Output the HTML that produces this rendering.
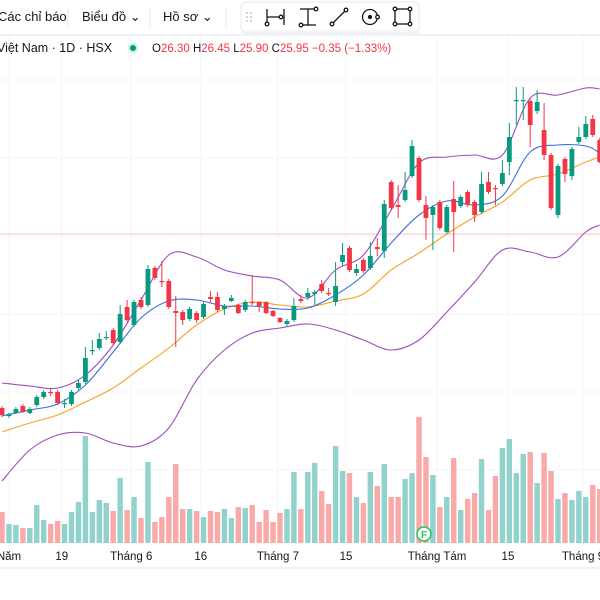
<!DOCTYPE html>
<html><head><meta charset="utf-8">
<style>
html,body{margin:0;padding:0;background:#fff;width:600px;height:600px;overflow:hidden;font-family:"Liberation Sans","Noto Sans CJK JP",sans-serif;}
svg{display:block}
</style></head>
<body>
<svg id="chart" width="600" height="600" viewBox="0 0 600 600" xmlns="http://www.w3.org/2000/svg" font-family="Liberation Sans, sans-serif">
  <rect width="600" height="600" fill="#fff"/>
  <g id="grid"></g>
  <line x1="0" y1="234" x2="600" y2="234" stroke="#f3c5c8" stroke-width="1"/>
  <g id="vol"></g>
  <g id="ind"></g>
  <g id="candles"></g>
  <g>
    <line x1="0" y1="35" x2="600" y2="35" stroke="#e0e3eb"/>
    <text x="-2" y="21" font-size="13" fill="#131722">Các chỉ báo</text>
    <line x1="68" y1="9" x2="68" y2="27" stroke="#e0e3eb"/>
    <text x="82" y="21" font-size="13" fill="#131722">Biểu đồ ⌄</text>
    <line x1="150" y1="9" x2="150" y2="27" stroke="#e0e3eb"/>
    <text x="163" y="21" font-size="13" fill="#131722">Hồ sơ ⌄</text>
    <line x1="226" y1="9" x2="226" y2="27" stroke="#e0e3eb"/>
  </g>
  <g>
    <rect x="241" y="2" width="178" height="31" rx="5" fill="#fff" stroke="#e6e8ee"/>
    <rect x="241" y="30" width="178" height="4" fill="#f0f1f4" opacity="0.6"/>
    <g fill="#b2b5be"><circle cx="247" cy="13" r="0.9"/><circle cx="251" cy="13" r="0.9"/><circle cx="247" cy="17" r="0.9"/><circle cx="251" cy="17" r="0.9"/><circle cx="247" cy="21" r="0.9"/><circle cx="251" cy="21" r="0.9"/></g>
    <g stroke="#131722" stroke-width="1.3" fill="#fff">
      <g><line x1="267" y1="9" x2="267" y2="25"/><line x1="267" y1="17" x2="283" y2="17"/><line x1="284" y1="9" x2="284" y2="25"/><circle cx="267" cy="24" r="1.8"/><circle cx="281" cy="17" r="1.8"/></g>
      <g><line x1="300" y1="9" x2="316" y2="9"/><line x1="308" y1="9" x2="308" y2="25"/><line x1="300" y1="25" x2="316" y2="25"/><circle cx="316" cy="9" r="1.8"/><circle cx="301" cy="25" r="1.8"/></g>
      <g><line x1="332" y1="24" x2="346" y2="10"/><circle cx="332" cy="24" r="1.8"/><circle cx="346" cy="10" r="1.8"/></g>
      <g><circle cx="370" cy="17" r="7.5"/><circle cx="370" cy="17" r="1.5" fill="#131722"/><circle cx="377.5" cy="17" r="1.8"/></g>
      <g><rect x="395" y="9" width="15" height="15" fill="none"/><circle cx="395" cy="9" r="1.8"/><circle cx="410" cy="9" r="1.8"/><circle cx="395" cy="24" r="1.8"/><circle cx="410" cy="24" r="1.8"/></g>
    </g>
  </g>
  <g font-size="12.5">
    <text x="-3" y="52" fill="#131722">Việt Nam · 1D · HSX</text>
    <circle cx="133" cy="48" r="5.5" fill="#d6f0ec"/><circle cx="133" cy="48" r="3" fill="#089981"/>
    <text x="152" y="52" font-size="11.5" fill="#f23645"><tspan fill="#131722">O</tspan>26.30 <tspan fill="#131722">H</tspan>26.45 <tspan fill="#131722">L</tspan>25.90 <tspan fill="#131722">C</tspan>25.95 −0.35 (−1.33%)</text>
  </g>
  <g id="axis">
    <line x1="0" y1="568" x2="600" y2="568" stroke="#e0e3eb"/>
  </g>
</svg>
<script>
const opens=[15.6,15.2,15.35,15.7,15.35,15.75,16.15,16.4,16.4,15.8,15.8,16.6,16.9,18.45,18.6,19.1,19.5,18.9,20.65,19.75,21.0,20.75,22.6,21.95,21.95,20.45,20.4,20.05,20.35,20.15,21.15,21.15,20.55,20.95,20.75,20.5,20.9,20.9,20.9,20.45,20.1,19.8,20.0,21.05,21.15,21.3,21.8,21.35,20.9,22.9,23.6,22.35,23.0,22.6,23.65,23.45,26.9,25.75,26.0,27.2,28.1,25.75,25.25,25.9,24.4,26.05,25.7,26.4,25.9,25.4,26.9,26.6,26.8,27.9,30.95,30.95,30.95,30.45,29.5,28.25,25.25,28.05,27.2,28.9,29.15,30.05,29.0];
const highs=[15.7,15.35,15.65,15.8,15.65,16.25,16.5,16.6,16.5,16.05,16.5,17.0,18.65,19.0,19.35,19.45,19.6,20.75,21.0,21.0,21.15,22.75,22.7,22.95,22.05,21.2,20.5,20.65,20.45,20.9,21.45,21.4,20.8,21.25,20.8,21.0,22.25,20.95,20.95,20.5,20.15,20.05,21.1,21.25,21.6,21.5,22.0,21.6,22.9,23.85,23.7,22.8,23.1,23.9,24.1,26.0,27.0,26.75,27.4,29.0,28.2,26.2,25.75,26.0,25.75,26.95,26.25,26.5,26.0,27.4,27.4,26.75,28.0,29.85,31.65,31.65,31.05,31.5,30.85,28.35,27.8,28.15,28.65,29.65,30.2,30.25,29.1];
const lows=[15.15,15.1,15.3,15.35,15.3,15.65,16.05,16.2,15.75,15.6,15.7,16.5,16.8,18.25,18.5,19.0,18.75,18.8,19.9,19.65,20.55,20.65,22.0,21.65,20.55,18.65,19.75,19.95,19.85,20.05,20.9,20.4,20.25,20.9,20.3,20.4,20.75,20.4,20.3,20.15,19.85,19.7,19.9,20.85,21.0,20.75,21.35,21.2,20.7,22.7,22.4,22.2,22.35,22.5,23.2,23.1,25.5,25.1,25.9,27.1,25.9,24.0,23.5,24.5,24.3,23.4,25.6,25.65,24.9,25.3,26.3,25.75,26.7,27.25,29.75,30.0,28.65,30.3,28.0,25.5,25.1,26.9,27.0,28.8,29.05,29.15,27.85];
const closes=[15.25,15.3,15.55,15.4,15.55,16.15,16.4,16.35,15.85,15.85,16.4,16.85,18.1,18.5,19.05,19.15,18.85,20.3,20.0,20.9,20.65,22.55,22.1,21.9,20.65,20.35,20.0,20.55,20.0,20.8,21.05,20.5,20.7,21.1,20.35,20.9,20.85,20.7,20.35,20.2,19.9,19.95,20.7,20.95,21.35,21.4,21.45,21.3,21.7,23.25,22.5,22.55,22.45,23.2,23.55,25.8,25.6,25.65,26.5,28.7,26.0,25.1,25.65,24.6,25.65,25.4,26.15,25.75,25.25,26.8,26.4,26.55,27.35,29.15,31.0,31.0,29.75,30.9,28.25,25.6,27.7,27.3,28.55,29.15,29.8,29.25,27.9];
const volumes=[31,19,18,15,15,38,23,19,22,19,31,41,107,31,43,40,32,65,33,46,25,81,21,26,46,79,34,34,32,26,32,31,34,25,36,35,38,21,33,21,30,34,71,34,71,80,52,39,97,72,70,46,40,71,57,79,46,46,64,70,126,86,68,36,46,85,33,44,50,84,33,67,95,104,70,89,91,60,90,72,44,50,43,52,46,58,54];
const indIdx=[0,4,8,12,16,20,24,28,32,36,40,44,48,52,56,60,64,68,72,76,80,84,86];
const maFast=[15.2,15.5,15.8,16.75,18.4,20.1,20.95,21.0,20.7,20.7,20.55,20.6,21.25,22.25,23.85,25.25,25.95,25.75,26.2,28.4,28.75,28.7,28.35];
const maSlow=[14.4,14.85,15.25,15.9,16.6,17.6,18.6,19.75,20.55,20.9,20.75,20.65,20.95,21.3,22.5,23.35,24.3,25.15,25.9,27.0,27.3,27.9,28.15];
const bbUpper=[16.85,16.7,16.6,17.25,18.75,21.0,23.25,23.15,22.5,22.2,22.0,21.1,22.5,23.25,25.5,27.85,28.15,28.25,28.25,31.1,31.25,31.6,31.55];
const bbLower=[11.95,13.5,14.25,14.35,13.85,13.7,14.6,17.0,18.5,19.35,19.6,19.8,19.5,19.0,18.5,19.0,20.4,21.9,23.5,23.4,23.15,24.4,24.75];
const tickLabels=["Năm","19","Tháng 6","16","Tháng 7","15","Tháng Tám","15","Tháng 9"];
const tickIdx=[1,8.6,18.6,28.6,39.7,49.5,62.6,72.8,83.6];

const NS="http://www.w3.org/2000/svg";
function xOf(i){return 2+i*6.95;}
function yOf(p){return (36-p)*20;}
function yVol(v){return 543-v;}
function mk(tag,attrs,parent){const e=document.createElementNS(NS,tag);for(const k in attrs)e.setAttribute(k,attrs[k]);parent.appendChild(e);return e;}

const grid=document.getElementById('grid');
for(let y=80;y<545;y+=78){const l=mk('line',{x1:0,y1:y,x2:600,y2:y,stroke:'#f3f4f7'},grid);

}
tickIdx.forEach((t)=>{const l=mk('line',{x1:xOf(t),y1:36,x2:xOf(t),y2:545,stroke:'#f3f4f7'},grid);

});

const vol=document.getElementById('vol');
volumes.forEach((v,i)=>{const up=closes[i]>=opens[i];
const r=mk('rect',{x:xOf(i)-2.7,y:yVol(v),width:5.4,height:543-yVol(v),fill:up?'#92d2cc':'#f8a9a8'},vol);

});
const fm=mk('g',{},vol);


mk('circle',{cx:424,cy:534,r:7,fill:'#fff',stroke:'#22c55e','stroke-width':1.5},fm);
const ft=mk('text',{x:424,y:538,'font-size':10,'text-anchor':'middle',fill:'#22c55e','font-weight':'bold'},fm);ft.textContent='F';

const ind=document.getElementById('ind');
function line(arr,color,name){
  const pts=arr.map((v,k)=>[xOf(indIdx[k]),yOf(v)]);
  let d='M'+pts[0][0].toFixed(1)+' '+pts[0][1].toFixed(1);
  for(let k=0;k<pts.length-1;k++){
    const p0=pts[Math.max(0,k-1)],p1=pts[k],p2=pts[k+1],p3=pts[Math.min(pts.length-1,k+2)];
    const c1x=p1[0]+(p2[0]-p0[0])/6,c1y=p1[1]+(p2[1]-p0[1])/6;
    const c2x=p2[0]-(p3[0]-p1[0])/6,c2y=p2[1]-(p3[1]-p1[1])/6;
    d+=' C'+c1x.toFixed(1)+' '+c1y.toFixed(1)+' '+c2x.toFixed(1)+' '+c2y.toFixed(1)+' '+p2[0].toFixed(1)+' '+p2[1].toFixed(1);
  }
  const p=mk('path',{d:d,fill:'none',stroke:color,'stroke-width':1.1,'stroke-linejoin':'round'},ind);
  
  }
line(bbUpper,'#a04cbb','bollinger-upper');
line(bbLower,'#a04cbb','bollinger-lower');
line(maSlow,'#f7a325','moving-average-slow');
line(maFast,'#3a6fe0','moving-average-fast');

const cg=document.getElementById('candles');
opens.forEach((o,i)=>{const c=closes[i];const up=c>=o;const col=up?'#089981':'#f23645';const x=xOf(i);
const g=mk('g',{},cg);


mk('line',{x1:x,y1:yOf(highs[i]),x2:x,y2:yOf(lows[i]),stroke:col,'stroke-width':1},g);
const top=yOf(Math.max(o,c)),bot=yOf(Math.min(o,c));
mk('rect',{x:x-2.4,y:top,width:4.8,height:Math.max(1.2,bot-top),fill:col},g);});

const ax=document.getElementById('axis');
tickLabels.forEach((t,k)=>{const e=mk('text',{x:xOf(tickIdx[k]),y:560,'font-size':11.5,'text-anchor':'middle',fill:'#131722'},ax);


e.textContent=t;});
</script>
</body></html>
